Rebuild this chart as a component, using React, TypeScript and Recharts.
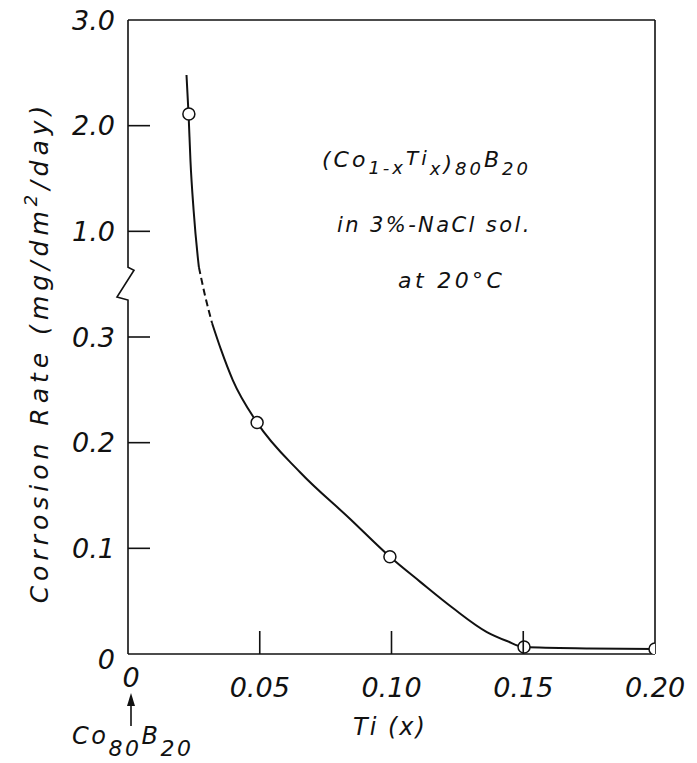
import React from 'react';
import { ComposedChart, Line, XAxis, YAxis, ReferenceLine, Customized } from 'recharts';

// ---- axis ticks ----
const xTicks = [0, 0.05, 0.1, 0.15, 0.2];
const xTickLabels = ['0', '0.05', '0.10', '0.15', '0.20'];
const yTickValues = [0, 0.1, 0.2, 0.3, 1.0, 2.0, 3.0];
const yTickLabels = ['0', '0.1', '0.2', '0.3', '1.0', '2.0', '3.0'];

// ---- measured points (Ti content x, corrosion rate mg/dm2/day) ----
const pointTi = [0.0231, 0.049, 0.0994, 0.1503, 0.2];
const pointRate = [2.11, 0.219, 0.092, 0.0066, 0.0047];

// ---- drawn curve: upper solid, dashed across the axis break, lower solid ----
const upperTi = [0.0222, 0.023, 0.0237, 0.0249, 0.0266, 0.0269];
const upperRate = [2.48, 2.1, 1.67, 1.2, 0.81, 0.763];
const dashTi = [0.0269, 0.0292, 0.0319];
const dashRate = [0.763, 0.577, 0.392];
const lowerTi = [0.0319, 0.0353, 0.0398, 0.049, 0.0653, 0.0842, 0.0994, 0.1108, 0.1233, 0.1362, 0.1438, 0.1503, 0.175, 0.2];
const lowerRate = [0.392, 0.288, 0.259, 0.219, 0.172, 0.128, 0.092, 0.0685, 0.0435, 0.0208, 0.0123, 0.0066, 0.0053, 0.0047];

// broken axis: 0..0.3 linear, 1.0..3.0 linear, equal tick spacing
const toAxis = (v: number) => {
  if (v <= 0.3) return v / 0.1;
  if (v >= 1) return v + 3;
  return 3 + (v - 0.3) / 0.7;
};

const rows = (xs: number[], vs: number[]) => xs.map((x, i) => ({ x, y: toAxis(vs[i]) }));
const upperData = rows(upperTi, upperRate);
const dashData = rows(dashTi, dashRate);
const lowerData = rows(lowerTi, lowerRate);
const pointData = rows(pointTi, pointRate);
const yTicks = yTickValues.map(toAxis);

// ---- layout ----
const W = 697;
const H = 763;
const MARGIN = { top: 20, right: 42, left: 28, bottom: 69 };
const Y_W = 100;
const X_H = 40;
const PLOT_L = MARGIN.left + Y_W;
const PLOT_T = MARGIN.top;
const PLOT_H = H - MARGIN.top - MARGIN.bottom - X_H;
const PLOT_B = PLOT_T + PLOT_H;
const yPix = (d: number) => PLOT_T + PLOT_H * (1 - d / 6);

const FONT = 'DejaVu Sans, Verdana, sans-serif';
const txt: React.CSSProperties = { fontFamily: FONT, fontStyle: 'italic' };
const INK = '#111';

const YTick = (props: any) => {
  const { x, y, index } = props;
  const showLine = index > 0 && index < yTickLabels.length - 1;
  return (
    <g>
      {showLine && <line x1={x} y1={y} x2={x + 22} y2={y} stroke={INK} strokeWidth={1.6} />}
      <text x={x - 13} y={y} dy={index === 0 ? '0.55em' : '0.36em'} textAnchor="end" fontSize={27} fill={INK} style={txt}>
        {yTickLabels[index]}
      </text>
    </g>
  );
};

const XTick = (props: any) => {
  const { x, y, index } = props;
  const showLine = index > 0 && index < xTickLabels.length - 1;
  return (
    <g>
      {showLine && <line x1={x} y1={y} x2={x} y2={y - 23} stroke={INK} strokeWidth={1.6} />}
      <text x={index === 0 ? x + 3 : x} y={index === 0 ? y + 33 : y + 43} textAnchor="middle" fontSize={27} fill={INK} style={txt}>
        {xTickLabels[index]}
      </text>
    </g>
  );
};

const Decor = () => {
  const yBreakLo = yPix(3.35);
  const yBreakHi = yPix(3.66);
  const ax = PLOT_L;
  const arrowX = ax + 3;
  return (
    <g>
      {/* y axis with break */}
      <polyline
        points={`${ax},${PLOT_T} ${ax},${yBreakHi} ${ax + 6},${yBreakHi + 3} ${ax - 11},${yBreakLo - 3} ${ax},${yBreakLo} ${ax},${PLOT_B}`}
        fill="none"
        stroke={INK}
        strokeWidth={1.6}
      />
      {/* y axis title */}
      <text
        transform={`translate(48, 352) rotate(-90)`}
        textAnchor="middle"
        fontSize={25}
        fill={INK}
        style={{ ...txt, letterSpacing: '5px' }}
      >
        Corrosion Rate (mg/dm<tspan fontSize={18} dy={-11}>2</tspan>
        <tspan dy={11}>/day)</tspan>
      </text>
      {/* x axis title */}
      <text x={390} y={735} textAnchor="middle" fontSize={24} fill={INK} style={{ ...txt, letterSpacing: '2px' }}>
        Ti (x)
      </text>
      {/* Co80B20 marker */}
      <line x1={arrowX} y1={726} x2={arrowX} y2={704} stroke={INK} strokeWidth={1.6} />
      <polygon points={`${arrowX},${693} ${arrowX - 4},${706} ${arrowX + 4},${706}`} fill={INK} />
      <text x={72} y={744} fontSize={24} fill={INK} style={{ ...txt, letterSpacing: '2.5px' }}>
        Co<tspan fontSize={22} dy={12}>80</tspan>
        <tspan dy={-12}>B</tspan>
        <tspan fontSize={22} dy={12}>20</tspan>
      </text>
      {/* annotation */}
      <text x={322} y={167} fontSize={22} fill={INK} style={{ ...txt, letterSpacing: '3px' }}>
        (Co<tspan fontSize={18} dy={7}>1-x</tspan>
        <tspan fontSize={20} dy={-9}>Ti</tspan>
        <tspan fontSize={18} dy={10}>x</tspan>
        <tspan dy={-4}>)</tspan>
        <tspan fontSize={18} dy={4}>80</tspan>
        <tspan dy={-8}>B</tspan>
        <tspan fontSize={18} dy={8}>20</tspan>
      </text>
      <text x={337} y={232} fontSize={21} fill={INK} style={{ ...txt, letterSpacing: '2.4px' }}>
        in  3%-NaCl  sol.
      </text>
      <text x={398} y={288} fontSize={22} fill={INK} style={{ ...txt, letterSpacing: '3.4px' }}>
        at 20°C
      </text>
    </g>
  );
};

export default function App() {
  return (
    <div style={{ position: 'absolute', left: 0, top: 0, width: W, height: H, background: '#fff' }}>
      <ComposedChart width={W} height={H} margin={MARGIN}>
        <XAxis
          dataKey="x"
          type="number"
          domain={[0, 0.2]}
          ticks={xTicks}
          interval={0}
          height={X_H}
          tickSize={0}
          tickMargin={0}
          tickLine={false}
          axisLine={{ stroke: INK, strokeWidth: 1.6 }}
          tick={<XTick />}
          allowDataOverflow
        />
        <YAxis
          dataKey="y"
          type="number"
          domain={[0, 6]}
          ticks={yTicks}
          interval={0}
          width={Y_W}
          tickSize={0}
          tickMargin={0}
          tickLine={false}
          axisLine={false}
          tick={<YTick />}
          allowDataOverflow
        />
        <ReferenceLine y={6} stroke={INK} strokeWidth={1.6} />
        <ReferenceLine x={0.2} stroke={INK} strokeWidth={1.6} />
        <Customized component={Decor} />
        <Line data={upperData} dataKey="y" type="monotone" stroke={INK} strokeWidth={2} dot={false} isAnimationActive={false} />
        <Line data={dashData} dataKey="y" type="monotone" stroke={INK} strokeWidth={2} strokeDasharray="7 4" dot={false} isAnimationActive={false} />
        <Line data={lowerData} dataKey="y" type="monotone" stroke={INK} strokeWidth={2} dot={false} isAnimationActive={false} />
        <Line
          data={pointData}
          dataKey="y"
          stroke="none"
          dot={{ r: 6, fill: '#fff', stroke: INK, strokeWidth: 1.5 }}
          isAnimationActive={false}
        />
      </ComposedChart>
    </div>
  );
}
